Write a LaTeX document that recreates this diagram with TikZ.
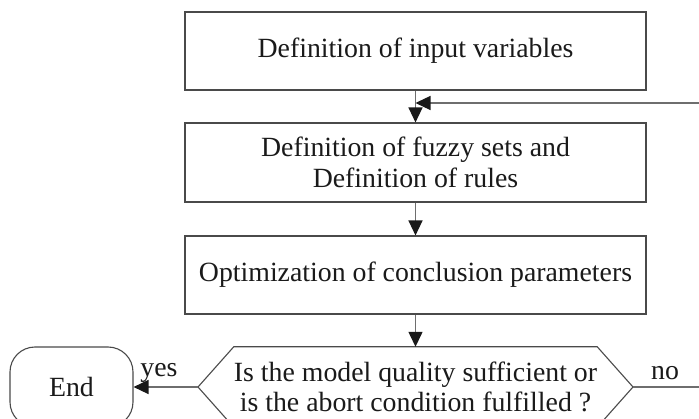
\documentclass[tikz,border=0pt]{standalone}
\usepackage{fontspec}
\setmainfont{Liberation Serif}
\usetikzlibrary{arrows.meta}
\definecolor{boxline}{HTML}{4A4A4A}
\definecolor{conline}{HTML}{6E6E6E}
\definecolor{txt}{HTML}{1A1A1A}
\begin{document}
\begin{tikzpicture}[x=1pt,y=-1pt,
  font=\fontsize{27.8}{30.5}\selectfont, text=txt,
  stepbox/.style={draw=boxline, line width=1.1pt, minimum width=461pt, minimum height=78pt, inner sep=0pt, align=center},
  conn/.style={draw=conline, line width=1.3pt, -{Triangle[length=15pt,width=14pt,fill=black!90,color=black!90]}},
  plainconn/.style={draw=conline, line width=1.3pt},
  lbl/.style={inner sep=0pt, anchor=base}
]
\useasboundingbox[fill=white] (0,0) rectangle (699,419);

\node[stepbox] (b1) at (415.5,51) {Definition of input variables};
\node[stepbox, minimum height=79pt] (b2) at (415.5,162.5) {Definition of fuzzy sets and\\Definition of rules};
\node[stepbox] (b3) at (415.5,275) {Optimization of conclusion parameters};

\node[inner sep=0pt, minimum width=357pt, minimum height=80pt, align=center] (dec) at (415.5,387)
  {Is the model quality sufficient or\\is the abort condition fulfilled ?};
\coordinate (decL) at (198,387);
\coordinate (decR) at (633,387);
\draw[draw=boxline, line width=1.1pt] (dec.north west) -- (dec.north east) -- (decR) -- (dec.south east)
  -- (dec.south west) -- (decL) -- cycle;

\node[draw=boxline, line width=1.1pt, rounded corners=25pt, minimum width=123pt, minimum height=80pt, inner sep=0pt] (end) at (71.5,387) {End};

\coordinate (fbin) at (702,103);
\coordinate (noend) at (702,387);
\coordinate (join) at (415.5,103);

\draw[conn] (b1.south) -- (b2.north);
\draw[conn] (fbin) -- (join);
\draw[conn] (b2.south) -- (b3.north);
\draw[conn] (b3.south) -- (dec.north -| b3.south);
\draw[conn] (decL) -- (end.east);
\draw[plainconn] (decR) -- (noend);

\node[lbl] (yes) at (159,377) {yes};
\node[lbl] (no) at (665,380) {no};
\end{tikzpicture}
\end{document}
